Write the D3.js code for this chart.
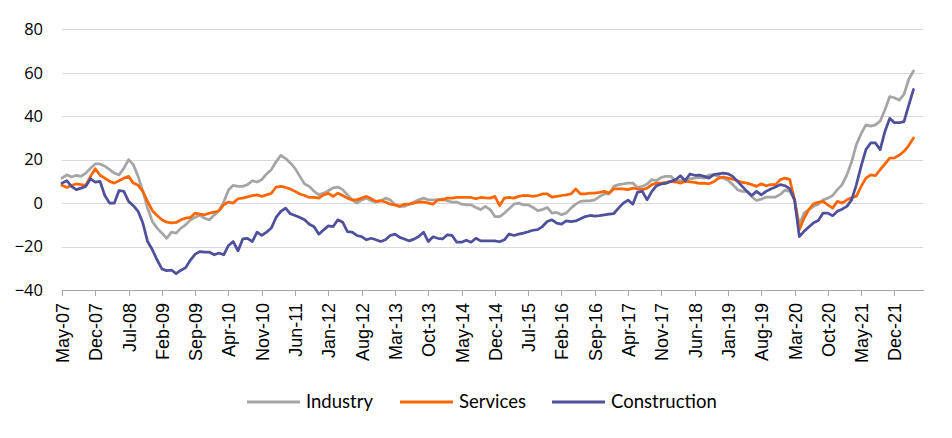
<!DOCTYPE html>
<html>
<head>
<meta charset="utf-8">
<script src="https://cdn.jsdelivr.net/npm/d3@7"></script>
<style>
  html, body { margin: 0; padding: 0; background: #ffffff; }
  svg { display: block; }
  text { fill: #000; }
</style>
</head>
<body>
<svg id="chart" width="952" height="438"></svg>
<script>
// ---- Data (monthly, May-07 .. Apr-22) ----
const startMonth = new Date(2007, 4, 1);
const nMonths = 180;

const industry = [
 11.5,13,12,12.8,12.3,13.8,16,18,18,17,15.4,13.8,13,16,20,17.7,12.3,5.4,-2.3,-8.5,
 -11.5,-13.8,-16.2,-13.4,-13.8,-11.5,-10,-7.7,-6.5,-5.5,-7,-7.7,-5.5,-3.5,0.5,6,8.2,7.7,7.7,8.5,
 10.3,9.7,10.8,13.4,15.4,19,22,20.5,18.5,16,12.3,8.8,7.7,5.4,3.8,4.6,5.7,7,7.4,6.2,
 3.8,1.5,0,1.5,2.3,1,0.5,1,2.3,1.5,-0.8,-1.5,-1.5,-0.5,0.5,1.5,2.3,1.5,1.5,1.5,
 2,1,0.5,0.5,-0.5,-0.8,-0.8,-2,-3,-1.5,-3,-6.2,-6.2,-4.6,-2.6,-0.5,0,-0.8,-0.8,-2,
 -3.5,-3,-2,-4.6,-4.3,-5.4,-4.6,-2.3,-0.5,0.8,1,1,1.5,3,4.2,4.2,7.7,8.5,8.8,9.2,
 9.2,7.2,7.7,8.8,10.8,10.3,11.8,12.3,12.3,10.3,10.3,10,11.2,11.5,11.8,11.5,13,13,12.3,11.5,
 10.5,8.5,6.2,5.4,5.4,3,1.2,1.8,2.8,2.8,2.8,4,6,5.4,1.5,-10,-4.6,-3,-1.5,-0.5,
 1.5,2.3,3.5,6.2,8.5,13,19,27,32,36,35.4,36,37.7,43,49,48.5,47.4,50,57,60.8
];

const services = [
 8.2,7.2,8.2,8.8,8.5,8.2,12.3,15.8,12.8,11.5,10,9.2,10.3,11.5,12.3,9.2,8.2,5.4,0.8,-3.5,
 -5.7,-7.7,-8.8,-9.1,-8.9,-7.7,-6.9,-6.6,-4.6,-5.1,-5.4,-4.6,-4.2,-3.5,-0.8,0.5,0,2,2.3,2.9,
 3.4,3.8,3.1,3.8,4.5,7.4,7.7,7.2,6.5,5.4,4.2,3.5,2.6,2.6,2.3,3.8,4.5,3.1,4.6,3.5,
 2.3,1.5,1.5,2.3,3.1,2,0.8,1.1,0.5,-0.5,-0.8,-1.5,-0.5,-0.5,0,0.5,0.5,0,-0.5,1.5,
 1.5,2.3,2.3,2.6,2.6,2.6,2.6,2,2.6,2.4,2.3,3.1,-1.1,2.3,2.6,2.3,3.1,3.5,3.4,3.1,
 3.5,4.2,4.2,2.8,3.1,3.5,3.8,4.2,6.5,4.2,4.2,4.6,4.6,4.9,5.4,4.6,6.5,6.6,6.5,6.2,
 6.9,6.5,6.2,6.9,8.5,9.2,9.2,9.5,10,9.7,9.2,10,9.8,9.5,9.1,9.2,8.9,9.8,11.4,12,
 11.5,11,10.3,9.5,9.2,8.5,7.7,8.9,8,8.5,8.5,10.8,11.5,10.8,1.5,-12.3,-7,-3,-0.3,0.3,
 0.8,-0.8,-2.3,0.8,0,1.5,2.5,3.2,7.7,11.5,13,12.6,15.4,18,20.7,20.8,22,23.8,26.5,30
];

const construction = [
 9.2,10.3,7.7,6.2,6.9,7.7,11.2,9.7,10,3.5,0,0,5.8,5.4,0.8,-1.2,-3.8,-9.2,-17.7,-21.5,
 -26.2,-30.3,-31.1,-30.8,-32.5,-30.9,-29.7,-26.2,-23.5,-22.3,-22.6,-22.6,-23.8,-23,-23.8,-19.5,-17.7,-22,-16.5,-16.2,
 -17.7,-13.4,-14.9,-13.4,-11.5,-6.6,-3.8,-2.3,-4.9,-5.7,-6.6,-7.7,-9.7,-10.9,-14.3,-12.3,-10.5,-10.8,-7.7,-8.8,
 -13.1,-13.4,-14.9,-15.4,-16.9,-16.2,-16.9,-17.7,-16.9,-14.9,-14.3,-15.8,-16.5,-17.4,-16.6,-15.4,-13.4,-17.7,-15.5,-16.2,
 -16.5,-14.6,-14.9,-18,-18,-17.1,-18,-16.2,-17.4,-17.4,-17.4,-17.4,-17.8,-16.9,-14.2,-14.9,-14.3,-13.8,-13.2,-12.5,
 -12.2,-10.8,-8.5,-7.7,-9.2,-9.7,-8.2,-8.5,-8.2,-7.2,-6.2,-5.7,-6,-5.8,-5.4,-5.1,-4.8,-2.3,0,1.4,
 -0.5,5.1,5.4,1.5,5.4,8,8.8,9.1,10,10.8,12.6,10.3,13.4,12.8,12.9,12.3,11.5,13.1,13.5,13.8,
 13.5,12.3,10,7.7,5.4,3.5,5.4,3.8,5.4,6.5,7.4,8.5,8,6.5,1.5,-15.4,-13,-11,-9,-8,
 -4.6,-4.6,-5.8,-3.8,-2.8,-1.5,1.5,8.5,17,24.6,27.7,27.7,24.6,33,39,37,37,37.5,45,52.3
];

const tickLabels = ["May-07","Dec-07","Jul-08","Feb-09","Sep-09","Apr-10","Nov-10","Jun-11",
  "Jan-12","Aug-12","Mar-13","Oct-13","May-14","Dec-14","Jul-15","Feb-16","Sep-16","Apr-17",
  "Nov-17","Jun-18","Jan-19","Aug-19","Mar-20","Oct-20","May-21","Dec-21"];
const yTicks = [-40, -20, 0, 20, 40, 60, 80];

const seriesNames = ["Industry", "Services", "Construction"];
const seriesColors = ["#A5A5A5", "#FF6600", "#4F4F9C"];
const seriesData = [industry, services, construction];

// ---- Chart ----
const months = d3.timeMonth.range(startMonth, d3.timeMonth.offset(startMonth, nMonths));
const svg = d3.select("#chart");

const x = d3.scaleLinear().domain([0, 181]).range([62, 923]);
const y = d3.scaleLinear().domain([-40, 80]).range([290, 29.3]);

// gridlines + y labels
const yAxis = d3.axisLeft(y).tickValues(yTicks).tickSize(-(923 - 62)).tickPadding(19)
  .tickFormat(d3.format("d"));
const gy = svg.append("g").attr("transform", "translate(62,0)").call(yAxis);
gy.select(".domain").remove();
gy.selectAll(".tick line").attr("stroke", "#D9D9D9").attr("stroke-width", 1)
  .attr("shape-rendering", "crispEdges");
gy.selectAll(".tick text").attr("font-size", "16.5px").attr("fill", "#000")
  .style("font-family", "'Open Sans', Lato, sans-serif");

// x axis
const tickIdx = tickLabels.map((_, k) => k * 7);
const xAxis = d3.axisBottom(x).tickValues(tickIdx).tickFormat((d, k) => tickLabels[k])
  .tickSizeInner(6).tickSizeOuter(0);
const gx = svg.append("g").attr("transform", `translate(0,${y(-40)})`).call(xAxis);
gx.select(".domain").attr("stroke", "#A6A6A6").attr("stroke-width", 1).attr("shape-rendering", "crispEdges");
gx.selectAll(".tick line").attr("stroke", "#A6A6A6").attr("shape-rendering", "crispEdges");
gx.selectAll(".tick text")
  .attr("font-size", "18px")
  .attr("fill", "#000")
  .style("font-family", "'Liberation Sans', Arial, sans-serif")
  .attr("text-anchor", "end")
  .attr("transform", "rotate(-90)")
  .attr("x", -13)
  .attr("y", 0)
  .attr("dy", "0.36em");

// lines
const line = d3.line().x((d, i) => x(i)).y(d => y(d)).curve(d3.curveLinear);
seriesData.forEach((arr, k) => {
  svg.append("path")
    .datum(arr.slice(0, months.length))
    .attr("fill", "none")
    .attr("stroke", seriesColors[k])
    .attr("stroke-width", 2.75)
    .attr("stroke-linejoin", "round")
    .attr("stroke-linecap", "round")
    .attr("d", line);
});

// legend
const legendX = [247, 400, 552];
const legendY = 402;
const lg = svg.append("g");
seriesNames.forEach((name, k) => {
  lg.append("line")
    .attr("x1", legendX[k]).attr("x2", legendX[k] + 53)
    .attr("y1", legendY).attr("y2", legendY)
    .attr("stroke", seriesColors[k]).attr("stroke-width", 3);
  lg.append("text")
    .attr("x", legendX[k] + 59).attr("y", legendY)
    .attr("dy", "0.35em")
    .attr("font-size", "18.5px")
    .style("font-family", "Lato, 'Open Sans', sans-serif")
    .attr("fill", "#000")
    .text(name);
});
</script>
</body>
</html>
